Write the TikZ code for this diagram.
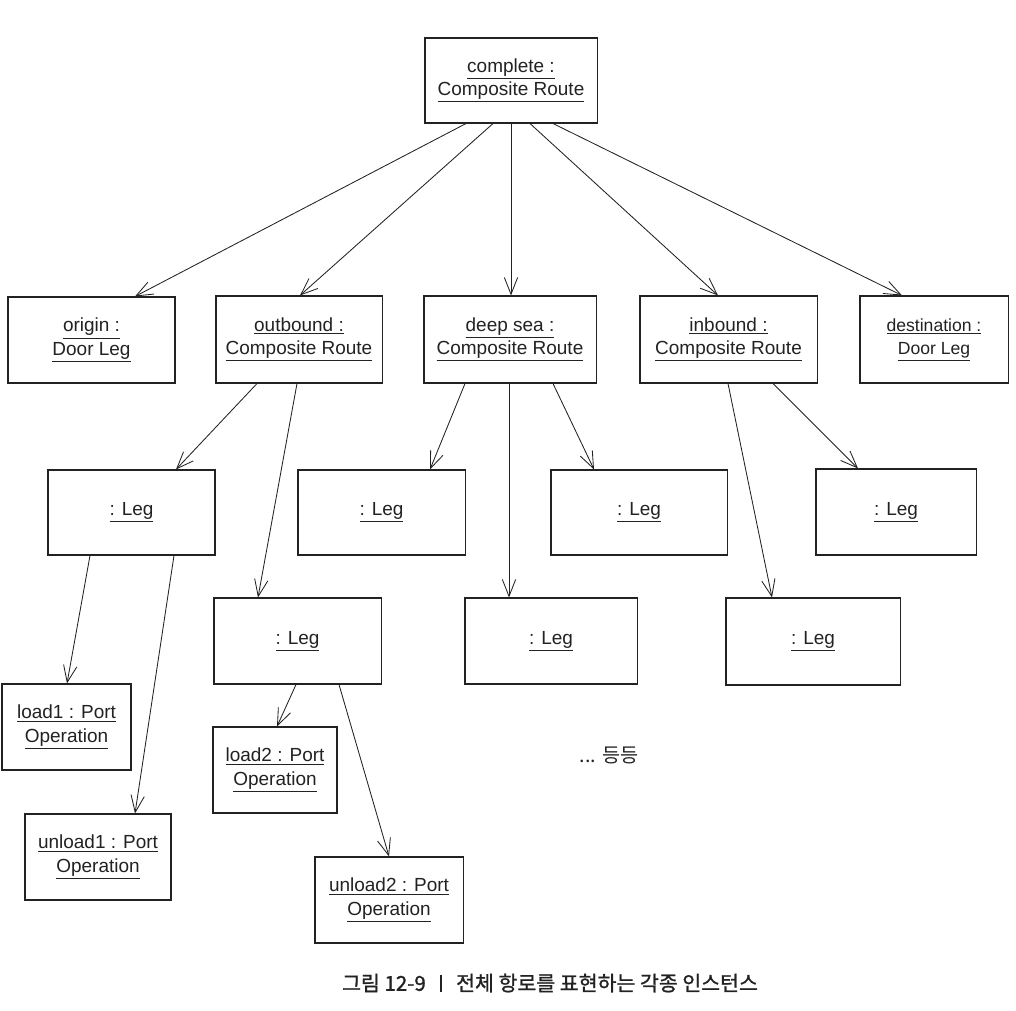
\documentclass[tikz,border=0pt]{standalone}
\usepackage{fontspec}
\setmainfont{Liberation Sans}
\newfontfamily\kr{Noto Sans CJK KR}
\newfontfamily\krb[FakeBold=1.2]{Noto Sans CJK KR}
\usetikzlibrary{arrows.meta}
\definecolor{ink}{HTML}{222222}
\tikzset{
  obj/.style={draw=ink, line width=0.75pt, inner sep=0pt, align=center, text=ink,
    font=\fontsize{13.5}{16.5}\selectfont},
  link/.style={draw=ink, line width=0.6pt, -{Straight Barb[length=12pt,width=9.5pt,line width=0.6pt]}}
}
\newcommand{\ul}[1]{\underline{#1}}
\begin{document}
\begin{tikzpicture}[x=0.025cm,y=-0.025cm]
\useasboundingbox[fill=white] (0,0) rectangle (1016,1010);
% level 0
\node[obj, minimum width=4.3cm, minimum height=2.125cm] (complete) at (511,80.5) {\ul{complete :}\\\ul{Composite Route}};
% level 1
\node[obj, minimum width=4.175cm, minimum height=2.15cm] (origin) at (91.5,340) {\ul{origin :}\\\ul{Door Leg}};
\node[obj, minimum width=4.15cm, minimum height=2.175cm] (outbound) at (299,339.5) {\ul{outbound :}\\\ul{Composite Route}};
\node[obj, minimum width=4.3cm, minimum height=2.175cm] (deep) at (510,339.5) {\ul{deep sea :}\\\ul{Composite Route}};
\node[obj, minimum width=4.425cm, minimum height=2.175cm] (inbound) at (728.5,339.5) {\ul{inbound :}\\\ul{Composite Route}};
\node[obj, minimum width=3.7cm, minimum height=2.175cm, font=\fontsize{12.5}{16.5}\selectfont] (dest) at (934,339.5) {\ul{destination :}\\\ul{Door Leg}};
% level 2
\node[obj, minimum width=4.175cm, minimum height=2.125cm] (legA) at (131.5,512.5) {\ul{: Leg}};
\node[obj, minimum width=4.175cm, minimum height=2.125cm] (legB) at (381.5,512.5) {\ul{: Leg}};
\node[obj, minimum width=4.4cm, minimum height=2.125cm] (legC) at (639,512.5) {\ul{: Leg}};
\node[obj, minimum width=4.0cm, minimum height=2.15cm] (legD) at (896,512) {\ul{: Leg}};
\node[obj, minimum width=4.175cm, minimum height=2.15cm] (legE) at (297.5,641) {\ul{: Leg}};
\node[obj, minimum width=4.3cm, minimum height=2.15cm] (legF) at (551,641) {\ul{: Leg}};
\node[obj, minimum width=4.35cm, minimum height=2.175cm] (legG) at (813,641.5) {\ul{: Leg}};
% level 3
\node[obj, minimum width=3.225cm, minimum height=2.15cm] (load1) at (66.5,727) {\ul{load1 : Port}\\\ul{Operation}};
\node[obj, minimum width=3.65cm, minimum height=2.15cm] (unload1) at (98,857) {\ul{unload1 : Port}\\\ul{Operation}};
\node[obj, minimum width=3.1cm, minimum height=2.15cm] (load2) at (275,770) {\ul{load2 : Port}\\\ul{Operation}};
\node[obj, minimum width=3.7cm, minimum height=2.15cm] (unload2) at (389,900) {\ul{unload2 : Port}\\\ul{Operation}};
% texts
\node[text=ink, font=\kr\fontsize{14}{16}\selectfont] (etc) at (609,755) {... 등등};
\node[text=ink, font=\krb\fontsize{14.6}{16}\selectfont] (cap) at (550,983) {그림 12-9 \ \ \rule[-1pt]{2pt}{12pt} \ \ 전체 항로를 표현하는 각종 인스턴스};
% links
\draw[link] (466,0 |- complete.south) -- (135,0 |- origin.north);
\draw[link] (493,0 |- complete.south) -- (300,0 |- outbound.north);
\draw[link] (511,0 |- complete.south) -- (511,0 |- deep.north);
\draw[link] (530,0 |- complete.south) -- (718,0 |- inbound.north);
\draw[link] (553,0 |- complete.south) -- (902,0 |- dest.north);
\draw[link] (257,0 |- outbound.south) -- (176,0 |- legA.north);
\draw[link] (297,0 |- outbound.south) -- (258,0 |- legE.north);
\draw[link] (465,0 |- deep.south) -- (430,0 |- legB.north);
\draw[link] (509,0 |- deep.south) -- (509,0 |- legF.north);
\draw[link] (553,0 |- deep.south) -- (594,0 |- legC.north);
\draw[link] (728,0 |- inbound.south) -- (772,0 |- legG.north);
\draw[link] (773,0 |- inbound.south) -- (858,0 |- legD.north);
\draw[link] (90,0 |- legA.south) -- (67,0 |- load1.north);
\draw[link] (174,0 |- legA.south) -- (135,0 |- unload1.north);
\draw[link] (296,0 |- legE.south) -- (277,0 |- load2.north);
\draw[link] (339,0 |- legE.south) -- (389,0 |- unload2.north);
\end{tikzpicture}
\end{document}
